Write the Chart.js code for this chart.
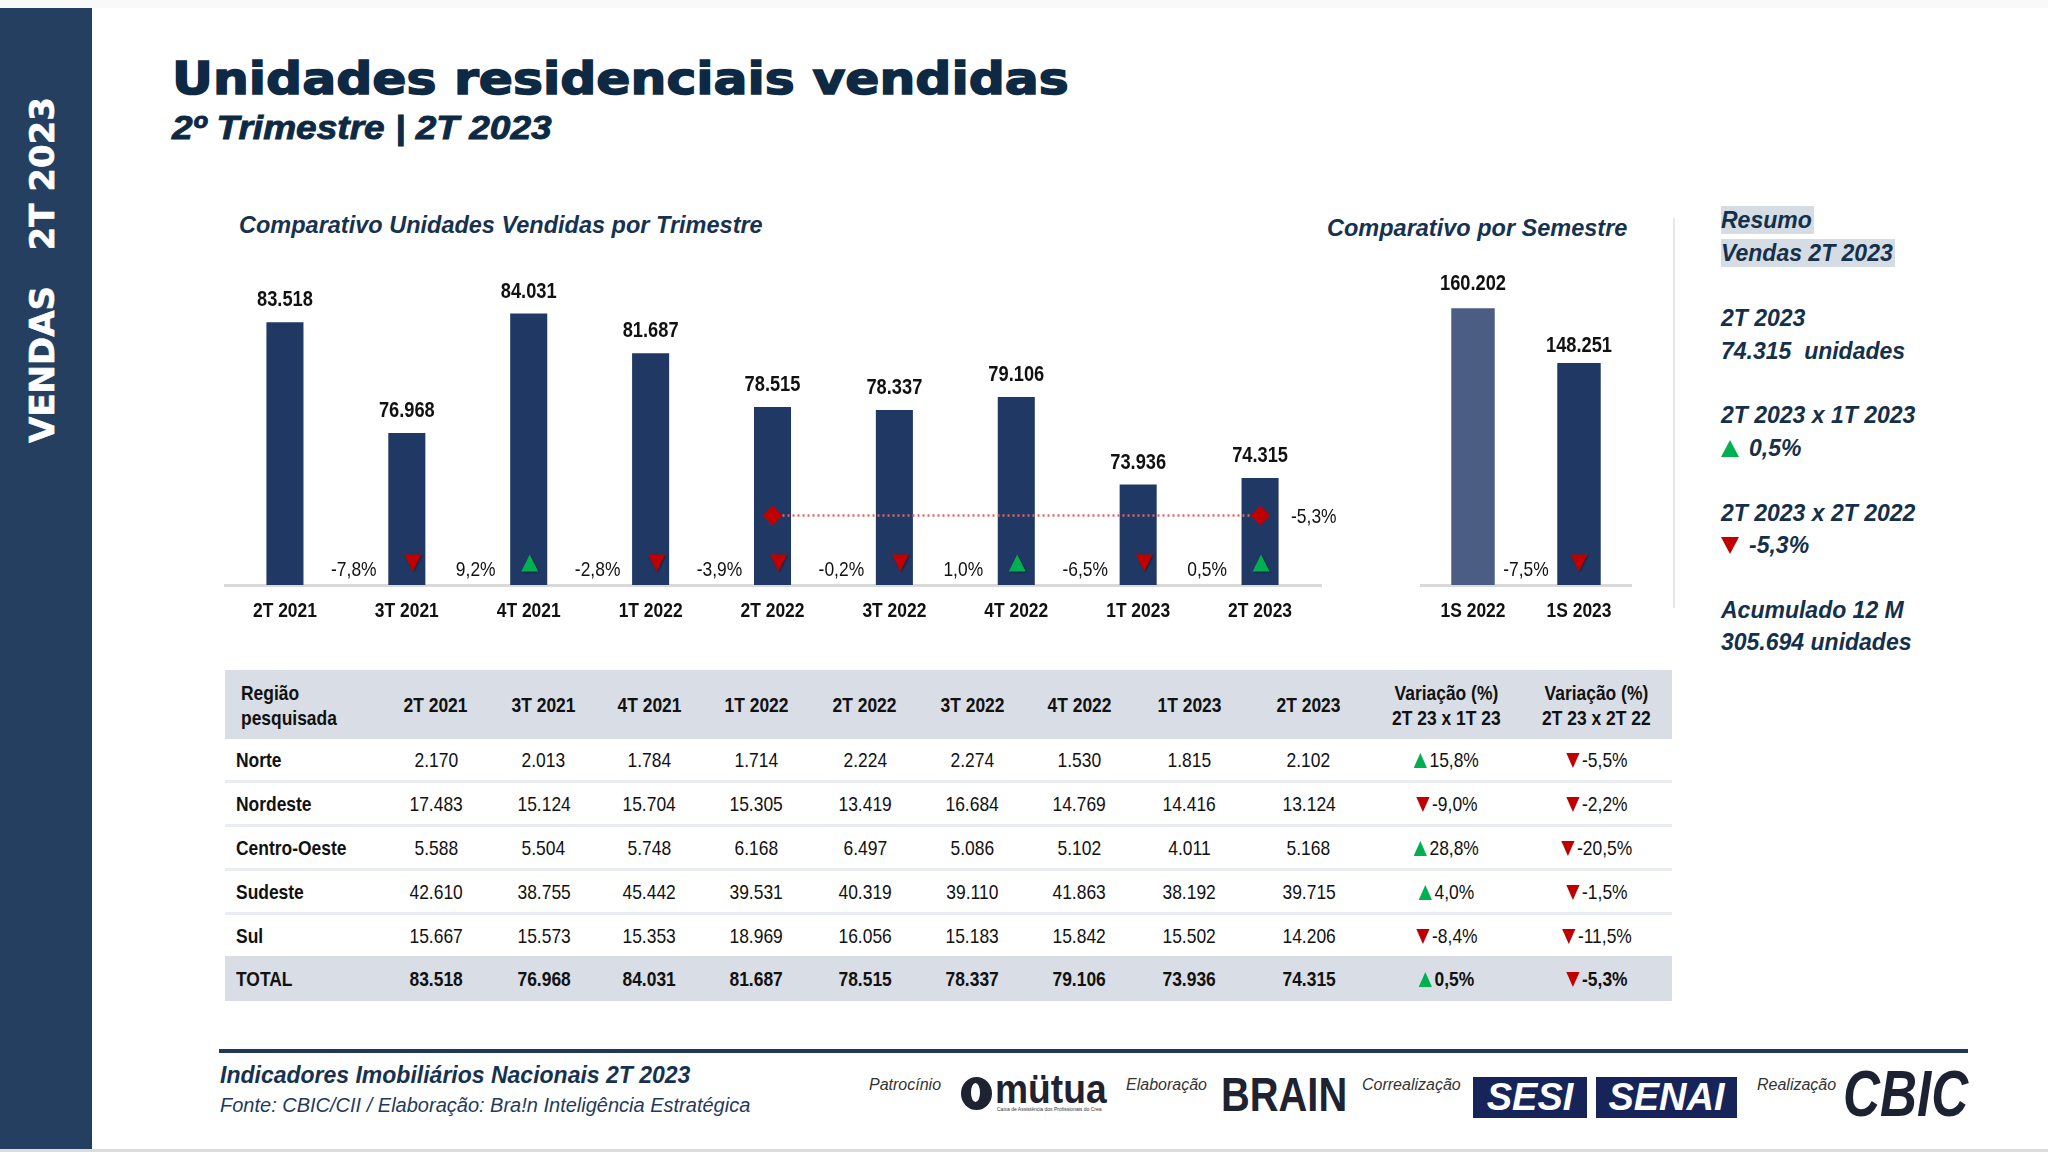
<!DOCTYPE html>
<html><head><meta charset="utf-8">
<script src="https://cdn.jsdelivr.net/npm/chart.js@4.4.0/dist/chart.umd.min.js"></script>
<style>
html,body{margin:0;padding:0;background:#fff;}
body{width:2048px;height:1152px;position:relative;overflow:hidden;font-family:'Liberation Sans',Arial,sans-serif;}
.abs{position:absolute;white-space:pre;}
.n{display:inline-block;transform:scaleX(0.83);}
.nl{display:inline-block;transform:scaleX(0.83);transform-origin:0 50%;}
#topstrip{left:0;top:0;width:2048px;height:8px;background:#f9f9f9;}
#sidebar{left:0;top:8px;width:92px;height:1142px;background:#243f5f;}
#bottomline{left:0;top:1149px;width:2048px;height:3px;background:#dcdcdc;}
#sidetext{left:-158px;top:245px;width:400px;height:50px;line-height:50px;text-align:center;color:#fff;font-family:'DejaVu Sans',sans-serif;font-weight:bold;font-size:34px;transform:rotate(-90deg);-webkit-text-stroke:0.6px #fff;}
#title{left:172px;top:44px;font-family:'DejaVu Sans',sans-serif;font-weight:bold;font-size:45px;line-height:70px;color:#0d2944;transform:scaleX(1.12);transform-origin:0 50%;-webkit-text-stroke:1.5px #0d2944;}
#subtitle{left:172px;top:107px;font-weight:bold;font-style:italic;font-size:34px;line-height:40px;color:#0d2944;-webkit-text-stroke:0.9px #0d2944;transform:scaleX(1.09);transform-origin:0 50%;}
.ctitle{font-weight:bold;font-style:italic;font-size:23.5px;line-height:30px;color:#17324f;}
#sep{left:1673px;top:218px;width:2px;height:390px;background:#e6e6e6;}
.res{font-weight:bold;font-style:italic;font-size:23px;line-height:30px;color:#14304a;}
.hl{background:#d6dce4;padding:1px 2px 1px 0;}
table#tbl{position:absolute;left:225px;top:670px;width:1447px;border-collapse:collapse;table-layout:fixed;color:#111;}
#tbl th{background:#d9dee6;height:69px;font-size:21px;font-weight:bold;text-align:center;padding:0;line-height:25px;}
#tbl td{height:41px;font-size:21px;text-align:center;padding:0;border-bottom:3px solid #e9ecf0;white-space:nowrap;}
#tbl tr.tot td{background:#d9dee6;font-weight:bold;border-bottom:none;height:45px;}
#tbl tr.pre td{border-bottom:none;}
#tbl td.lab{text-align:left;padding-left:11px;font-weight:bold;}
#tbl th.lab{text-align:left;padding-left:16px;}
.tu{display:inline-block;width:0;height:0;border-left:8px solid transparent;border-right:8px solid transparent;border-bottom:15px solid #00b050;margin-right:3px;vertical-align:-1px;}
.td{display:inline-block;width:0;height:0;border-left:8px solid transparent;border-right:8px solid transparent;border-top:15px solid #c00000;margin-right:3px;vertical-align:-1px;}
.ru{display:inline-block;width:0;height:0;border-left:9px solid transparent;border-right:9px solid transparent;border-bottom:17px solid #00b050;margin-right:10px;vertical-align:-1px;}
.rd{display:inline-block;width:0;height:0;border-left:9px solid transparent;border-right:9px solid transparent;border-top:17px solid #c00000;margin-right:10px;vertical-align:-1px;}
#footline{left:219px;top:1049px;width:1749px;height:4px;background:#1e3a52;}
.foot1{left:220px;top:1061px;font-weight:bold;font-style:italic;font-size:23px;line-height:28px;color:#17324f;}
.foot2{left:220px;top:1092px;font-style:italic;font-size:20px;line-height:26px;color:#1f3a60;}
.lbl{font-style:italic;font-size:16px;line-height:20px;color:#333;}
.logo{font-weight:bold;color:#1f2230;}
.box{background:#16245a;color:#fff;font-weight:bold;font-style:italic;text-align:center;}
</style></head><body>
<div id="topstrip" class="abs"></div>
<div id="sidebar" class="abs"></div>
<div id="sidetext" class="abs">VENDAS   2T 2023</div>
<div id="bottomline" class="abs"></div>

<div id="title" class="abs">Unidades residenciais vendidas</div>
<div id="subtitle" class="abs">2º Trimestre | 2T 2023</div>

<div class="abs ctitle" style="left:239px;top:210px;">Comparativo Unidades Vendidas por Trimestre</div>
<div class="abs ctitle" style="left:1327px;top:213px;">Comparativo por Semestre</div>

<canvas id="cTri" class="abs" width="1157" height="400" style="left:224px;top:230px;"></canvas>
<canvas id="cSem" class="abs" width="212" height="400" style="left:1420px;top:230px;"></canvas>

<div id="sep" class="abs"></div>
<div id="resumo"></div>

<table id="tbl"></table>

<div id="footline" class="abs"></div>
<div class="abs foot1">Indicadores Imobiliários Nacionais 2T 2023</div>
<div class="abs foot2">Fonte: CBIC/CII / Elaboração: Bra!n Inteligência Estratégica</div>

<div class="abs lbl" style="left:869px;top:1075px;">Patrocínio</div>
<div class="abs" style="left:961px;top:1077px;width:31px;height:33px;border-radius:50%;background:#1f2230;"></div>
<div class="abs" style="left:971px;top:1083px;width:9px;height:19px;border-radius:50%;background:#fff;"></div>
<div class="abs logo" style="left:995px;top:1068px;font-size:40px;line-height:42px;"><span class="nl" style="transform:scaleX(0.93)">mütua</span></div>
<div class="abs" style="left:997px;top:1106px;font-size:5px;line-height:6px;color:#333;">Caixa de Assistência dos Profissionais do Crea</div>
<div class="abs lbl" style="left:1126px;top:1075px;">Elaboração</div>
<div class="abs logo" style="left:1221px;top:1070px;font-size:48px;line-height:50px;"><span class="nl">BRAIN</span></div>
<div class="abs lbl" style="left:1362px;top:1075px;">Correalização</div>
<div class="abs box" style="left:1473px;top:1077px;width:114px;height:41px;font-size:38px;line-height:41px;">SESI</div>
<div class="abs box" style="left:1596px;top:1077px;width:141px;height:41px;font-size:38px;line-height:41px;">SENAI</div>
<div class="abs lbl" style="left:1757px;top:1075px;">Realização</div>
<div class="abs logo" style="left:1843px;top:1060px;font-size:64px;line-height:68px;font-style:italic;color:#1d2233;"><span class="nl" style="transform:scaleX(0.8)">CBIC</span></div>

<script>
// ---------------- DATA ----------------
const quarterLabels = ['2T 2021','3T 2021','4T 2021','1T 2022','2T 2022','3T 2022','4T 2022','1T 2023','2T 2023'];
const quarterSales  = [83518, 76968, 84031, 81687, 78515, 78337, 79106, 73936, 74315];
const quarterPct    = [null, -7.8, 9.2, -2.8, -3.9, -0.2, 1.0, -6.5, 0.5];
const compareLine   = [null, null, null, null, 72100, null, null, null, 72100];
const compareLabel  = -5.3;

const semesterLabels = ['1S 2022','1S 2023'];
const semesterSales  = [160202, 148251];
const semesterPct    = [null, -7.5];

const regions     = ['Norte','Nordeste','Centro-Oeste','Sudeste','Sul','TOTAL'];
const norte       = [2170, 2013, 1784, 1714, 2224, 2274, 1530, 1815, 2102];
const nordeste    = [17483, 15124, 15704, 15305, 13419, 16684, 14769, 14416, 13124];
const centroOeste = [5588, 5504, 5748, 6168, 6497, 5086, 5102, 4011, 5168];
const sudeste     = [42610, 38755, 45442, 39531, 40319, 39110, 41863, 38192, 39715];
const sul         = [15667, 15573, 15353, 18969, 16056, 15183, 15842, 15502, 14206];
const total       = [83518, 76968, 84031, 81687, 78515, 78337, 79106, 73936, 74315];
const varQoQ      = [15.8, -9.0, 28.8, 4.0, -8.4, 0.5];
const varYoY      = [-5.5, -2.2, -20.5, -1.5, -11.5, -5.3];

const resumoUnits = 74315;
const resumoQoQ   = 0.5;
const resumoYoY   = -5.3;
const acumulado12 = 305694;

// ---------------- HELPERS ----------------
const FONT = "'Liberation Sans', Arial, sans-serif";
const SX = 0.83; // narrow-face emulation
const NAVY = '#203864';
const fmt = v => String(v).replace(/\B(?=(\d{3})+(?!\d))/g, '.');
const fmtPct = p => p.toFixed(1).replace('.', ',') + '%';

function ntext(ctx, text, x, y, font, align) {
  ctx.save();
  ctx.translate(x, y); ctx.scale(SX, 1);
  ctx.font = font; ctx.textAlign = align; ctx.textBaseline = 'middle'; ctx.fillStyle = '#111';
  ctx.fillText(text, 0, 0);
  ctx.restore();
}

function tri(ctx, x, y, up, w, h) {
  ctx.save();
  ctx.fillStyle = up ? '#00b050' : '#c00000';
  ctx.shadowColor = 'rgba(0,0,0,0.35)';
  ctx.shadowBlur = 2; ctx.shadowOffsetX = 1; ctx.shadowOffsetY = 1;
  ctx.beginPath();
  if (up) { ctx.moveTo(x, y - h/2); ctx.lineTo(x + w/2, y + h/2); ctx.lineTo(x - w/2, y + h/2); }
  else    { ctx.moveTo(x - w/2, y - h/2); ctx.lineTo(x + w/2, y - h/2); ctx.lineTo(x, y + h/2); }
  ctx.closePath(); ctx.fill();
  ctx.restore();
}

const barLabels = {
  id: 'barLabels',
  afterDraw(chart, args, opts) {
    const ctx = chart.ctx;
    const meta = chart.getDatasetMeta(0);
    const data = chart.data.datasets[0].data;
    const bottom = chart.chartArea.bottom;
    const xs = chart.scales.x;
    // category tick labels, placed by the x scale
    chart.data.labels.forEach((lab, i) => {
      ntext(ctx, lab, xs.getPixelForTick(i), bottom + 26, 'bold 21px ' + FONT, 'center');
    });
    meta.data.forEach((bar, i) => {
      const gap = Array.isArray(opts.valueGap) ? opts.valueGap[i] : opts.valueGap;
      ntext(ctx, fmt(data[i]), bar.x, bar.y - gap, 'bold 22px ' + FONT, 'center');
      const p = opts.pct[i];
      if (p !== null && p !== undefined) {
        ntext(ctx, fmtPct(p), bar.x - 53, bottom - 15, '21px ' + FONT, 'center');
        const up = p >= 0;
        tri(ctx, bar.x + (up ? opts.upOff : opts.dnOff), bottom - 22, up, 17, 17);
      }
    });
    if (opts.lineLabel !== undefined) {
      const lds = chart.data.datasets[1].data;
      const lm = chart.getDatasetMeta(1);
      let last = null;
      lm.data.forEach((pt, i) => { if (lds[i] !== null) last = pt; });
      if (last) ntext(ctx, fmtPct(opts.lineLabel), last.x + 31, last.y + 2, '21px ' + FONT, 'left');
    }
  }
};

const xAxis = () => ({
  offset: true,
  grid: { display: true, color: 'transparent', drawTicks: false },
  border: { display: true, color: '#d9d9d9', width: 3 },
  ticks: { display: false }
});

// ---------------- CHARTS ----------------
new Chart(document.getElementById('cTri'), {
  data: {
    labels: quarterLabels,
    datasets: [
      { type: 'bar', data: quarterSales, backgroundColor: NAVY, barPercentage: 0.304, categoryPercentage: 1, order: 2 },
      { type: 'line', data: compareLine, spanGaps: true, borderColor: '#e06666', borderWidth: 2.5, borderDash: [2, 3],
        pointStyle: 'rectRot', pointRadius: 8, pointBackgroundColor: '#c00000', pointBorderColor: '#c00000', order: 1 }
    ]
  },
  options: {
    responsive: false, animation: false, events: [],
    layout: { autoPadding: false, padding: { left: 0, right: 60, top: 0, bottom: 45 } },
    plugins: { legend: { display: false }, tooltip: { enabled: false },
      barLabels: { pct: quarterPct, valueGap: 22, upOff: 1, dnOff: 6, lineLabel: compareLabel } },
    scales: { x: xAxis(), y: { display: false, min: 68000, max: 88960 } }
  },
  plugins: [barLabels]
});

new Chart(document.getElementById('cSem'), {
  type: 'bar',
  data: {
    labels: semesterLabels,
    datasets: [{ data: semesterSales, backgroundColor: ['#4b5d82', NAVY], barPercentage: 0.41, categoryPercentage: 1 }]
  },
  options: {
    responsive: false, animation: false, events: [],
    layout: { autoPadding: false, padding: { left: 0, right: 0, top: 0, bottom: 45 } },
    plugins: { legend: { display: false }, tooltip: { enabled: false },
      barLabels: { pct: semesterPct, valueGap: [24, 17], upOff: 0, dnOff: 0 } },
    scales: { x: xAxis(), y: { display: false, min: 100000, max: 177200 } }
  },
  plugins: [barLabels]
});

// ---------------- RESUMO ----------------
const arrow = p => p >= 0 ? '<span class="ru"></span>' : '<span class="rd"></span>';
const resumoItems = [
  [220, '<span class="hl">Resumo</span>'],
  [253, '<span class="hl">Vendas 2T 2023</span>'],
  [318, '2T 2023'],
  [351, fmt(resumoUnits) + '  unidades'],
  [415, '2T 2023 x 1T 2023'],
  [448, arrow(resumoQoQ) + fmtPct(resumoQoQ)],
  [513, '2T 2023 x 2T 2022'],
  [545, arrow(resumoYoY) + fmtPct(resumoYoY)],
  [610, 'Acumulado 12 M'],
  [642, fmt(acumulado12) + ' unidades']
];
document.getElementById('resumo').innerHTML = resumoItems.map(([y, t]) =>
  `<div class="abs res" style="left:1721px;top:${y - 15}px;">${t}</div>`).join('');

// ---------------- TABLE ----------------
const colW = [156.5, 109, 106.5, 105, 108.5, 109, 106, 107.5, 112.5, 126.5, 149, 151];
const rows = [norte, nordeste, centroOeste, sudeste, sul, total];
const varCell = p => `<span class="n">${p >= 0 ? '<span class="tu"></span>' : '<span class="td"></span>'}${fmtPct(p)}</span>`;
let html = '<colgroup>' + colW.map(w => `<col style="width:${w}px">`).join('') + '</colgroup>';
html += '<tr><th class="lab"><span class="nl">Região<br>pesquisada</span></th>' +
        quarterLabels.map(q => `<th><span class="n">${q}</span></th>`).join('') +
        '<th><span class="n">Variação (%)<br>2T 23 x 1T 23</span></th><th><span class="n">Variação (%)<br>2T 23 x 2T 22</span></th></tr>';
rows.forEach((r, i) => {
  const cls = i === rows.length - 1 ? 'tot' : (i === rows.length - 2 ? 'pre' : '');
  html += `<tr class="${cls}"><td class="lab"><span class="nl">${regions[i]}</span></td>` +
          r.map(v => `<td><span class="n">${fmt(v)}</span></td>`).join('') +
          `<td>${varCell(varQoQ[i])}</td><td>${varCell(varYoY[i])}</td></tr>`;
});
document.getElementById('tbl').innerHTML = html;
</script>
</body></html>
